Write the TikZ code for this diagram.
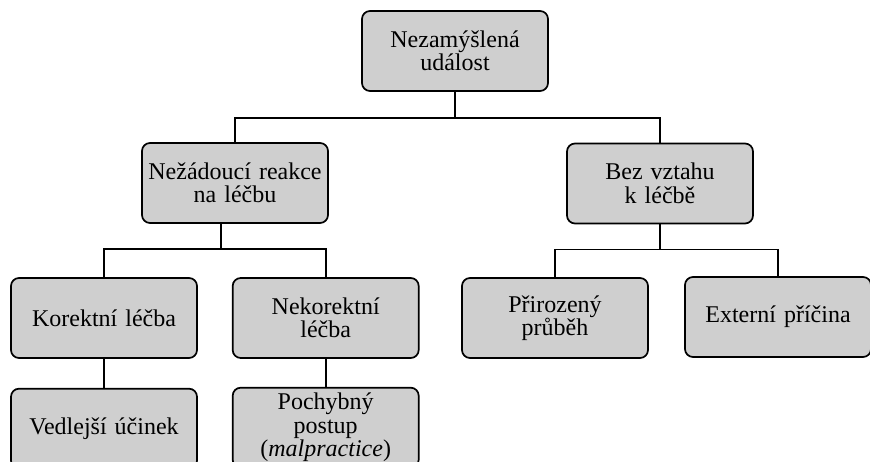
\documentclass[tikz,border=0pt]{standalone}
\usepackage{fontspec}
\setmainfont{Liberation Serif}
\usepackage{tikz}
\usetikzlibrary{positioning}

\definecolor{boxgray}{RGB}{207,207,207}

\begin{document}
\begin{tikzpicture}[
  x=1pt, y=-1pt,
  font=\fontsize{24}{23.5}\selectfont,
  box/.style={rounded corners=8pt, draw=black, line width=1.7pt, fill=boxgray,
              minimum width=186pt, minimum height=80pt, text width=180pt,
              align=center, inner sep=3pt},
  link/.style={line width=1.6pt, black},
  node distance=34pt
]
\useasboundingbox (0,0) rectangle (870,462);
\clip (0,0) rectangle (870,462);

\node[box] (top) at (455,51) {Nezamýšlená\\událost};

\node[box] (adv) at (235,183) {Nežádoucí reakce\\na léčbu};
\node[box] (unrel) at (660,183.5) {Bez vztahu\\k léčbě};

\node[box] (corr) at (104,318) {Korektní léčba};
\node[box, right=of corr] (incorr) {Nekorektní\\léčba};
\node[box] (nat) at (555,318) {Přirozený\\průběh};
\node[box, minimum width=183pt] (ext) at (778,317) {Externí příčina};

\node[box, below=29pt of corr] (side) {Vedlejší účinek};
\node[box, below=28pt of incorr] (mal) {Pochybný\\postup\\(\textit{malpractice})};

\draw[link] (top.south) -- ++(0,26) coordinate (j0);
\draw[link] (adv.north) |- (j0) -| (unrel.north);

\draw[link] ([xshift=-14pt]adv.south) -- ++(0,25) coordinate (j1);
\draw[link] (corr.north) |- (j1) -| (incorr.north);

\draw[link] (unrel.south) -- ++(0,25) coordinate (j2);
\draw[link] (nat.north) |- (j2) -| (ext.north);

\draw[link] (corr) -- (side);
\draw[link] (incorr) -- (mal);

\end{tikzpicture}
\end{document}
